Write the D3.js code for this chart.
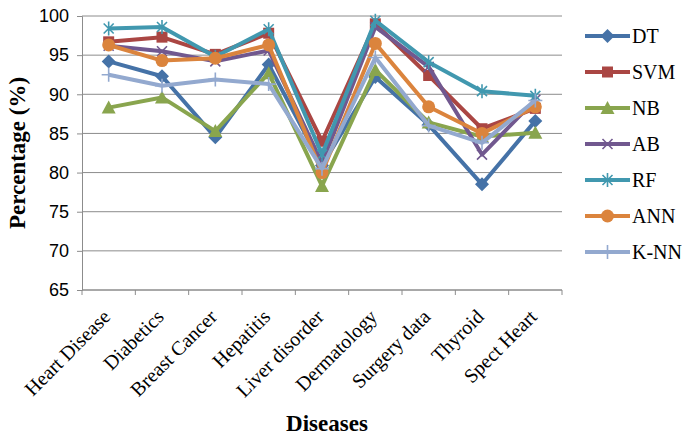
<!DOCTYPE html>
<html>
<head>
<meta charset="utf-8">
<script src="https://cdn.jsdelivr.net/npm/d3@7"></script>
<style>
  body { margin: 0; background: #fff; }
</style>
</head>
<body>
<svg id="chart"></svg>
<script>
// categories and series
const diseases = ["Heart Disease", "Diabetics", "Breast Cancer", "Hepatitis", "Liver disorder",
  "Dermatology", "Surgery data", "Thyroid", "Spect Heart"];
const seriesNames = ["DT", "SVM", "NB", "AB", "RF", "ANN", "K-NN"];
const dtVals  = [94.2, 92.3, 84.5, 93.8, 80.9, 92.2, 86.1, 78.5, 86.6];
const svmVals = [96.7, 97.3, 95.1, 97.8, 84.0, 99.0, 92.4, 85.6, 88.2];
const nbVals  = [88.3, 89.6, 85.3, 92.7, 78.3, 93.1, 86.4, 84.6, 85.1];
const abVals  = [96.2, 95.5, 94.2, 95.6, 81.2, 98.6, 93.5, 82.3, 89.3];
const rfVals  = [98.4, 98.6, 94.8, 98.3, 82.3, 99.4, 94.1, 90.4, 89.8];
const annVals = [96.3, 94.3, 94.6, 96.3, 80.0, 96.5, 88.4, 85.0, 88.4];
const knnVals = [92.5, 91.1, 91.9, 91.3, 80.5, 94.7, 86.0, 83.8, 89.2];
const yTicks = [65, 70, 75, 80, 85, 90, 95, 100];

const colors = ["#4572A7", "#AA4643", "#89A54E", "#71588F", "#4198AF", "#DB843D", "#93A9CF"];
const shapes = ["diamond", "square", "triangle", "x", "star", "circle", "plus"];
const allVals = [dtVals, svmVals, nbVals, abVals, rfVals, annVals, knnVals];

const width = 684, height = 436;
const plotL = 82, plotR = 562, plotT = 16, plotB = 290;

const svg = d3.select("#chart").attr("width", width).attr("height", height);

const x = d3.scaleBand().domain(diseases).range([plotL, plotR]);
const y = d3.scaleLinear().domain([65, 100]).range([plotB, plotT]);

// gridlines
svg.append("g")
  .selectAll("line")
  .data(yTicks)
  .join("line")
  .attr("x1", plotL).attr("x2", plotR)
  .attr("y1", d => y(d)).attr("y2", d => y(d))
  .attr("stroke", "#8c8c8c").attr("stroke-width", 1);

// y axis
const yAxis = svg.append("g")
  .attr("transform", `translate(${plotL},0)`)
  .call(d3.axisLeft(y).tickValues(yTicks).tickSize(5).tickPadding(8));
yAxis.select(".domain").attr("stroke", "#8c8c8c");
yAxis.selectAll(".tick line").attr("stroke", "#8c8c8c");
yAxis.selectAll("text")
  .style("font-family", "Liberation Sans, Arial, sans-serif")
  .style("font-size", "18px")
  .attr("fill", "#000");

// x axis line and boundary ticks
svg.append("line")
  .attr("x1", plotL).attr("x2", plotR)
  .attr("y1", plotB).attr("y2", plotB)
  .attr("stroke", "#8c8c8c");
svg.append("g")
  .selectAll("line")
  .data(d3.range(diseases.length + 1))
  .join("line")
  .attr("x1", i => plotL + i * x.step()).attr("x2", i => plotL + i * x.step())
  .attr("y1", plotB).attr("y2", plotB + 5)
  .attr("stroke", "#8c8c8c");

// rotated category labels
svg.append("g")
  .selectAll("text")
  .data(diseases)
  .join("text")
  .attr("transform", d => `translate(${x(d) + x.bandwidth() / 2 - 2},${plotB + 23}) rotate(-45)`)
  .attr("text-anchor", "end")
  .attr("dy", "0.35em")
  .style("font-family", "Liberation Serif, Times New Roman, serif")
  .style("font-size", "20px")
  .text(d => d);

// axis titles
svg.append("text")
  .attr("transform", `translate(25,${(plotT + plotB) / 2}) rotate(-90)`)
  .attr("text-anchor", "middle")
  .style("font-family", "Liberation Serif, Times New Roman, serif")
  .style("font-weight", "bold")
  .style("font-size", "23px")
  .text("Percentage (%)");

svg.append("text")
  .attr("x", (plotL + plotR) / 2 + 5)
  .attr("y", 431)
  .attr("text-anchor", "middle")
  .style("font-family", "Liberation Serif, Times New Roman, serif")
  .style("font-weight", "bold")
  .style("font-size", "23px")
  .text("Diseases");

function drawMarker(g, shape, color) {
  if (shape === "diamond") {
    g.append("path").attr("d", "M0,-7L7,0L0,7L-7,0Z").attr("fill", color);
  } else if (shape === "square") {
    g.append("rect").attr("x", -5.5).attr("y", -5.5).attr("width", 11).attr("height", 11).attr("fill", color);
  } else if (shape === "triangle") {
    g.append("path").attr("d", "M0,-7L7,6L-7,6Z").attr("fill", color);
  } else if (shape === "circle") {
    g.append("circle").attr("r", 6.5).attr("fill", color);
  } else if (shape === "x") {
    g.append("path").attr("d", "M-5,-5L5,5M-5,5L5,-5").attr("stroke", color).attr("stroke-width", 1.6);
  } else if (shape === "star") {
    g.append("path").attr("d", "M-5,-5L5,5M-5,5L5,-5M0,-7L0,7").attr("stroke", color).attr("stroke-width", 1.6);
  } else if (shape === "plus") {
    g.append("path").attr("d", "M0,-7L0,7M-7,0L7,0").attr("stroke", color).attr("stroke-width", 1.6);
  }
}

const line = d3.line()
  .x((d, i) => x(diseases[i]) + x.bandwidth() / 2)
  .y(d => y(d));

allVals.forEach((vals, s) => {
  const g = svg.append("g");
  g.append("path")
    .attr("d", line(vals))
    .attr("fill", "none")
    .attr("stroke", colors[s])
    .attr("stroke-width", 4)
    .attr("stroke-linejoin", "round");
  vals.forEach((v, i) => {
    const m = g.append("g")
      .attr("transform", `translate(${x(diseases[i]) + x.bandwidth() / 2},${y(v)})`);
    drawMarker(m, shapes[s], colors[s]);
  });
});

// legend
const legend = svg.append("g");
seriesNames.forEach((name, s) => {
  const ly = 36 + s * 36;
  legend.append("line")
    .attr("x1", 585).attr("x2", 630)
    .attr("y1", ly).attr("y2", ly)
    .attr("stroke", colors[s]).attr("stroke-width", 4);
  const m = legend.append("g").attr("transform", `translate(607.5,${ly})`);
  drawMarker(m, shapes[s], colors[s]);
  legend.append("text")
    .attr("x", 632).attr("y", ly)
    .attr("dy", "0.35em")
    .style("font-family", "Liberation Serif, Times New Roman, serif")
    .style("font-size", "20px")
    .text(name);
});
</script>
</body>
</html>
